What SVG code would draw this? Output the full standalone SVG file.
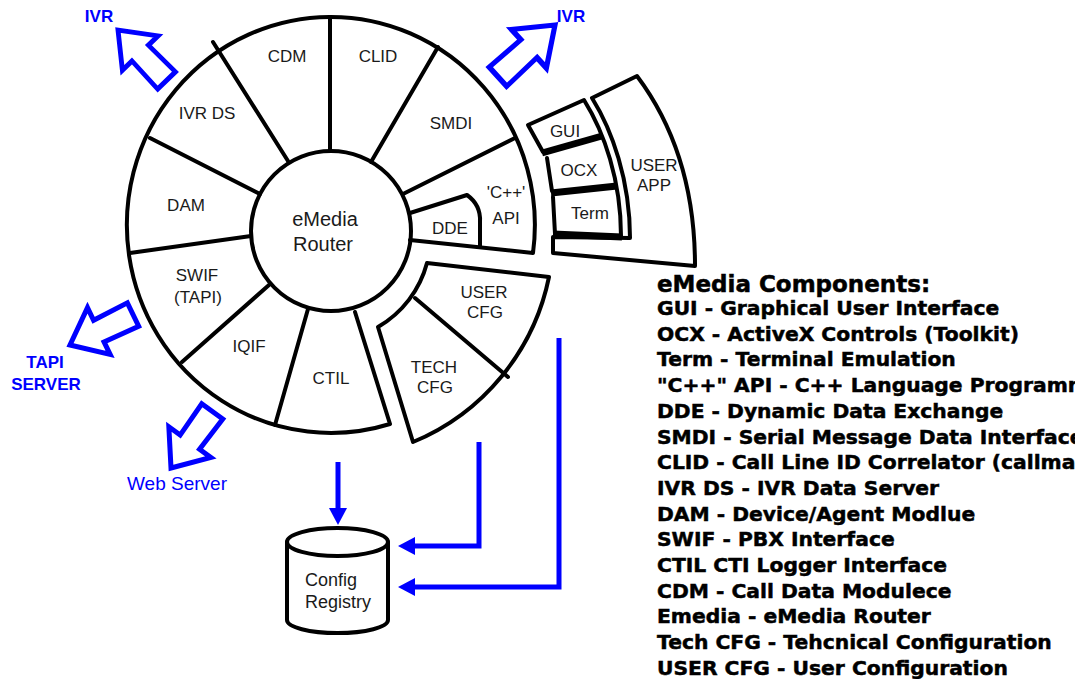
<svg xmlns="http://www.w3.org/2000/svg" width="1075" height="679" viewBox="0 0 1075 679">
<style>
.ln{fill:none;stroke:#000;stroke-width:4;stroke-linejoin:round;stroke-linecap:round}
.thk{fill:none;stroke:#000;stroke-width:7;stroke-linecap:butt}
.lbl{font-family:"Liberation Sans",Arial,sans-serif;font-size:17px;fill:#1a1a1a;text-anchor:middle}
.big{font-size:20px}
.blue{font-family:"Liberation Sans",Arial,sans-serif;fill:#0000ff;text-anchor:middle}
.barrow{fill:none;stroke:#0000ff;stroke-width:5;stroke-linejoin:miter}
.conn{fill:none;stroke:#0000ff;stroke-width:5;stroke-linejoin:miter}
.leg{font-family:"DejaVu Sans",Verdana,sans-serif;font-weight:bold;font-size:20.3px;fill:#000;stroke:#000;stroke-width:0.5}
</style>
<defs>
<marker id="ah" markerUnits="userSpaceOnUse" markerWidth="18" markerHeight="18" refX="0" refY="9" orient="auto">
<path d="M0,0 L17,9 L0,18 Z" fill="#0000ff"/>
</marker>
<path id="hollow" d="M0,0 L-32,-26 L-32,-12 L-70,-13 L-70,13 L-32,12 L-32,26 Z"/>
</defs>
<rect width="1075" height="679" fill="#fff"/>

<g id="router-ring">
<path class="ln" d="M410,240 L533,253 A204,208 0 1 0 390,424 L355,312"/>
<line class="ln" x1="330" y1="17" x2="330" y2="151"/>
<line class="ln" x1="213" y1="42" x2="288" y2="161"/>
<line class="ln" x1="438" y1="47" x2="371" y2="162"/>
<line class="ln" x1="150" y1="138" x2="260" y2="194"/>
<line class="ln" x1="515" y1="138" x2="403" y2="194"/>
<line class="ln" x1="130" y1="253" x2="251" y2="236"/>
<line class="ln" x1="182" y1="362" x2="269" y2="285"/>
<line class="ln" x1="275" y1="425" x2="308" y2="309"/>
<path class="ln" d="M410,213 L467,195 Q481,205 480,222 L480,246"/>
<circle class="ln" cx="331" cy="231" r="80" fill="#fff"/>
</g>
<g id="ring-labels">
<text class="lbl" x="287" y="62">CDM</text>
<text class="lbl" x="378" y="62">CLID</text>
<text class="lbl" x="207" y="119">IVR DS</text>
<text class="lbl" x="451" y="129">SMDI</text>
<text class="lbl" x="186" y="211">DAM</text>
<text class="lbl" x="506" y="198">'C++'</text>
<text class="lbl" x="506" y="224">API</text>
<text class="lbl" x="450" y="234">DDE</text>
<text class="lbl" x="197" y="281">SWIF</text>
<text class="lbl" x="198" y="303">(TAPI)</text>
<text class="lbl" x="249" y="352">IQIF</text>
<text class="lbl" x="331" y="384">CTIL</text>
<text class="lbl big" x="325" y="226">eMedia</text>
<text class="lbl big" x="323" y="251">Router</text>
</g>

<g id="cfg-block">
<path class="ln" d="M427,263 L549,277 A228,228 0 0 1 413,442 L378,327 A105,105 0 0 0 427,263 Z"/>
<line class="ln" x1="415" y1="298" x2="508" y2="377"/>
<text class="lbl" x="484" y="298">USER</text>
<text class="lbl" x="485" y="318">CFG</text>
<text class="lbl" x="434" y="373">TECH</text>
<text class="lbl" x="435" y="393">CFG</text>
</g>

<g id="user-app">
<path class="ln" d="M592,98 L637,76 C670,120 695,180 695,266 L553,253 L553,237 L630,238 C630,180 612,130 592,98 Z"/>
<text class="lbl" x="654" y="171">USER</text>
<text class="lbl" x="654" y="191">APP</text>
</g>
<g id="client-column">
<path class="ln" d="M543,152 L528,125 L584,100 C604,132 621,180 621,236"/>
<line class="ln" x1="547" y1="158" x2="552" y2="191"/>
<line class="ln" x1="553" y1="197" x2="555" y2="234"/>
<line class="thk" x1="542" y1="153" x2="602" y2="136"/>
<line class="thk" x1="551" y1="193" x2="617" y2="186"/>
<line class="thk" x1="553" y1="234" x2="622" y2="237"/>
<text class="lbl" x="565" y="137">GUI</text>
<text class="lbl" x="579" y="176">OCX</text>
<text class="lbl" x="590" y="219">Term</text>
</g>

<g id="config-registry">
<path class="ln" d="M287,542 L287,620 A50.5,13 0 0 0 388,620 L388,542" fill="#fff"/>
<ellipse class="ln" cx="337.5" cy="542" rx="50.5" ry="14"/>
<text class="lbl" x="305" y="586" style="text-anchor:start;font-size:18px">Config</text>
<text class="lbl" x="305" y="608" style="text-anchor:start;font-size:18px">Registry</text>
</g>

<g id="external-arrows">
<use href="#hollow" class="barrow" transform="translate(118,30) rotate(-133.9) scale(1,0.95)"/>
<use href="#hollow" class="barrow" transform="translate(555,25) rotate(-42.2) scale(1.1,1)"/>
<use href="#hollow" class="barrow" transform="translate(70,345) rotate(154.2)"/>
<use href="#hollow" class="barrow" transform="translate(171,468) rotate(126.1)"/>
<text class="blue" x="99" y="22" font-size="17" font-weight="bold">IVR</text>
<text class="blue" x="571" y="22" font-size="17" font-weight="bold">IVR</text>
<text class="blue" x="45" y="368" font-size="17" font-weight="bold">TAPI</text>
<text class="blue" x="46" y="390" font-size="17" font-weight="bold">SERVER</text>
<text class="blue" x="177" y="490" font-size="19">Web Server</text>
</g>

<g id="connectors">
<path class="conn" d="M338,462 L338,508" marker-end="url(#ah)"/>
<path class="conn" d="M479,442 L479,546 L415,546" marker-end="url(#ah)"/>
<path class="conn" d="M559,338 L559,587 L415,587" marker-end="url(#ah)"/>
</g>

<g id="legend">
<text class="leg" x="657" y="292" style="font-size:23px">eMedia Components:</text>
<text class="leg" x="657" y="315">GUI - Graphical User Interface</text>
<text class="leg" x="657" y="340.7">OCX - ActiveX Controls (Toolkit)</text>
<text class="leg" x="657" y="366.4">Term - Terminal Emulation</text>
<text class="leg" x="657" y="392.1">"C++" API - C++ Language Programm</text>
<text class="leg" x="657" y="417.8">DDE - Dynamic Data Exchange</text>
<text class="leg" x="657" y="443.5">SMDI - Serial Message Data Interface</text>
<text class="leg" x="657" y="469.2">CLID - Call Line ID Correlator (callma</text>
<text class="leg" x="657" y="494.9">IVR DS - IVR Data Server</text>
<text class="leg" x="657" y="520.6">DAM - Device/Agent Modlue</text>
<text class="leg" x="657" y="546.3">SWIF - PBX Interface</text>
<text class="leg" x="657" y="572">CTIL CTI Logger Interface</text>
<text class="leg" x="657" y="597.7">CDM - Call Data Modulece</text>
<text class="leg" x="657" y="623.4">Emedia - eMedia Router</text>
<text class="leg" x="657" y="649.1">Tech CFG - Tehcnical Configuration</text>
<text class="leg" x="657" y="674.8">USER CFG - User Configuration</text>
</g>
</svg>
